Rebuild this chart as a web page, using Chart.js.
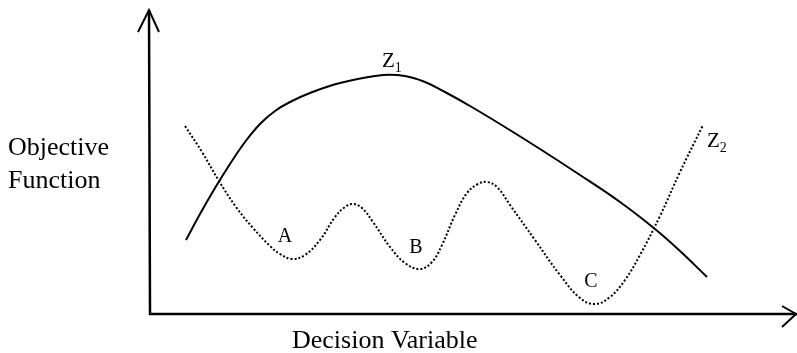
<!DOCTYPE html>
<html>
<head>
<meta charset="utf-8">
<script src="https://cdn.jsdelivr.net/npm/chart.js@4.4.1/dist/chart.umd.min.js"></script>
<style>
  html, body { margin: 0; padding: 0; background: #fff; }
  #wrap { position: relative; width: 797px; height: 353px; }
</style>
</head>
<body>
<div id="wrap"><canvas id="objChart"></canvas></div>
<script>
// Z1: smooth objective (solid)
const z1X = [36, 50, 65, 80, 95, 110, 125, 140, 160, 190, 233, 255, 275, 295, 320, 350, 390, 430, 470, 505, 530, 557];
const z1Y = [74, 100, 126, 150, 172, 190, 203, 212, 221, 231, 239, 238, 232, 222, 208, 190, 165, 139, 112, 85, 63, 37];

// Z2: multimodal objective (dotted) with local minima A, B, C
const z2X = [35, 52, 69, 86, 103, 120, 130, 142, 155, 170, 185, 195, 203, 212, 223, 240, 255, 270, 282, 292, 305, 317, 328, 337, 347, 360, 385, 410, 430, 445, 460, 475, 490, 510, 530, 553];
const z2Y = [188, 162, 133, 107, 86, 68, 60, 55, 59, 74, 97, 107, 110, 106, 92, 67, 51, 45, 52, 69, 99, 121, 130, 132, 127, 109, 74, 39, 16, 10, 17, 34, 59, 98, 142, 189];

// point labels (text, x, y in data units)
const markNames = ['A', 'B', 'C'];
const markX = [135, 266, 441];
const markY = [77, 66, 32];

const curveNames = ['Z', 'Z'];
const curveSubs = ['1', '2'];
const curveX = [232, 557];
const curveY = [247, 167];

const xMax = 647;
const yMax = 304;

const serif = '"Liberation Serif", "Times New Roman", serif';

const toPoints = (xs, ys) => xs.map((x, i) => ({ x: x, y: ys[i] }));

// draws the arrowed axes and all the annotation text
const sketchPlugin = {
  id: 'sketch',
  afterDatasetsDraw(chart) {
    const ctx = chart.ctx;
    const xs = chart.scales.x;
    const ys = chart.scales.y;
    const x0 = xs.getPixelForValue(0);
    const x1 = xs.getPixelForValue(xMax);
    const y0 = ys.getPixelForValue(0);
    const y1 = ys.getPixelForValue(yMax);

    ctx.save();
    ctx.strokeStyle = '#000';
    ctx.lineWidth = 2.5;
    ctx.beginPath();
    ctx.moveTo(x0 - 1, y1);
    ctx.lineTo(x0, y0);
    ctx.lineTo(x1, y0);
    ctx.stroke();

    ctx.lineWidth = 2;
    ctx.beginPath();
    ctx.moveTo(x0 - 12, y1 + 22);
    ctx.lineTo(x0 - 1, y1);
    ctx.lineTo(x0 + 9, y1 + 22);
    ctx.moveTo(x1 - 15, y0 - 8);
    ctx.lineTo(x1 - 1, y0);
    ctx.lineTo(x1 - 15, y0 + 13);
    ctx.stroke();

    ctx.fillStyle = '#000';
    ctx.textAlign = 'center';
    ctx.textBaseline = 'middle';
    ctx.font = '20px ' + serif;
    markNames.forEach((t, i) => {
      ctx.fillText(t, xs.getPixelForValue(markX[i]), ys.getPixelForValue(markY[i]));
    });

    ctx.textAlign = 'left';
    ctx.textBaseline = 'alphabetic';
    curveNames.forEach((t, i) => {
      const px = xs.getPixelForValue(curveX[i]);
      const py = ys.getPixelForValue(curveY[i]);
      ctx.font = '21px ' + serif;
      ctx.fillText(t, px, py);
      const w = ctx.measureText(t).width;
      ctx.font = '14px ' + serif;
      ctx.fillText(curveSubs[i], px + w, py + 5);
    });

    ctx.font = '26px ' + serif;
    ctx.fillText('Objective', 8, 155);
    ctx.fillText('Function', 8, 188);
    ctx.fillText('Decision Variable', 292, 348);
    ctx.restore();
  }
};

const ctx = document.getElementById('objChart');

new Chart(ctx, {
  type: 'line',
  data: {
    datasets: [
      {
        label: 'Z1',
        data: toPoints(z1X, z1Y),
        borderColor: '#000',
        borderWidth: 2,
        pointRadius: 0,
        fill: false,
        tension: 0.4
      },
      {
        label: 'Z2',
        data: toPoints(z2X, z2Y),
        borderColor: '#000',
        borderWidth: 2,
        borderDash: [2, 2],
        pointRadius: 0,
        fill: false,
        tension: 0.4
      }
    ]
  },
  options: {
    responsive: true,
    maintainAspectRatio: false,
    animation: false,
    layout: { padding: { left: 150, top: 10, right: 0, bottom: 39 } },
    scales: {
      x: { type: 'linear', min: 0, max: xMax, display: false },
      y: { type: 'linear', min: 0, max: yMax, display: false }
    },
    plugins: {
      legend: { display: false },
      tooltip: { enabled: false }
    }
  },
  plugins: [sketchPlugin]
});
</script>
</body>
</html>
